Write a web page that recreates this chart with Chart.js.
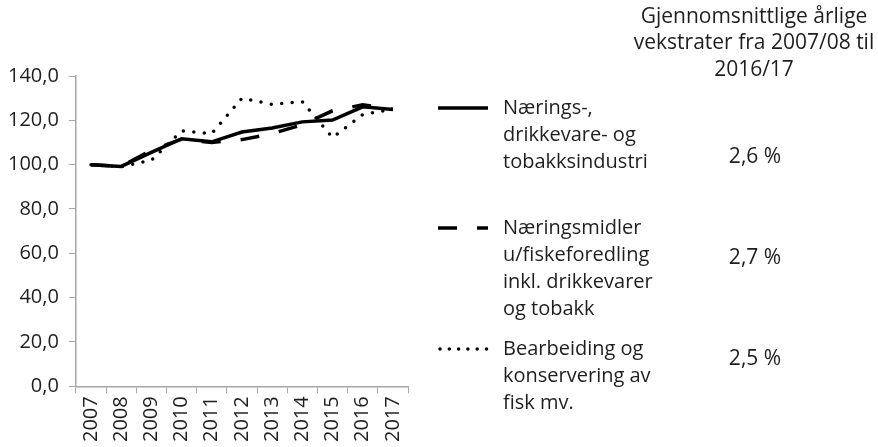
<!DOCTYPE html>
<html>
<head>
<meta charset="utf-8">
<script src="https://cdn.jsdelivr.net/npm/chart.js@4.4.1/dist/chart.umd.min.js"></script>
<style>
    html, body { margin: 0; padding: 0; background: #fff; }
    #wrap { position: relative; width: 878px; height: 447px; }
</style>
</head>
<body>
<div id="wrap"><canvas id="chart" width="878" height="447"></canvas></div>
<script>
// Indeks 2007 = 100
const years = ['2007', '2008', '2009', '2010', '2011', '2012', '2013', '2014', '2015', '2016', '2017'];
const naeringsDrikkeTobakk = [100, 99.2, 105.5, 111.7, 110.3, 114.7, 116.5, 119.3, 120.1, 126.1, 124.9];
const naeringsmidlerUtenFisk = [100, 99.2, 106.5, 111.5, 110.0, 111.3, 114.0, 118.0, 124.3, 127.0, 125.0];
const fiskBearbeiding = [100, 99.0, 102.0, 115.2, 114.0, 130.0, 127.2, 128.4, 112.2, 122.6, 125.0];

const seriesLabels = [
    ['Nærings-,', 'drikkevare- og', 'tobakksindustri'],
    ['Næringsmidler', 'u/fiskeforedling', 'inkl. drikkevarer', 'og tobakk'],
    ['Bearbeiding og', 'konservering av', 'fisk mv.']
];
const growthRates = ['2,6 %', '2,7 %', '2,5 %'];
const headerLines = ['Gjennomsnittlige årlige', 'vekstrater fra 2007/08 til', '2016/17'];

const FONT = '"Open Sans", sans-serif';
const TEXT_COLOR = '#1e1e1e';
const AXIS_COLOR = '#a6a6a6';

// Legend + growth rate table drawn to the right of the plot
const sideLegend = {
    id: 'sideLegend',
    afterDraw(chart) {
        const ctx = chart.ctx;
        ctx.save();
        ctx.fillStyle = TEXT_COLOR;
        ctx.textBaseline = 'middle';

        ctx.font = '21px ' + FONT;
        ctx.textAlign = 'center';
        headerLines.forEach((line, i) => ctx.fillText(line, 754, 17 + i * 26.5));

        const itemTop = [108, 228, 349];
        const rateY = [157, 258, 359];
        const dashes = [[], [19, 20], [0, 9.3]];

        chart.data.datasets.forEach((ds, i) => {
            ctx.beginPath();
            ctx.setLineDash(dashes[i]);
            ctx.lineCap = i === 2 ? 'round' : 'butt';
            ctx.lineWidth = ds.borderWidth;
            ctx.strokeStyle = ds.borderColor;
            ctx.moveTo(i === 2 ? 440 : 438, itemTop[i]);
            ctx.lineTo(488, itemTop[i]);
            ctx.stroke();
            ctx.setLineDash([]);

            ctx.font = '20px ' + FONT;
            ctx.textAlign = 'left';
            seriesLabels[i].forEach((line, j) => ctx.fillText(line, 503, itemTop[i] + j * 27));

            ctx.font = '21px ' + FONT;
            ctx.textAlign = 'center';
            ctx.fillText(growthRates[i], 755, rateY[i]);
        });
        ctx.restore();
    }
};

const ctx = document.getElementById('chart').getContext('2d');
new Chart(ctx, {
    type: 'line',
    data: {
        labels: years,
        datasets: [
            {
                label: seriesLabels[0].join(' '),
                data: naeringsDrikkeTobakk,
                borderColor: '#000',
                borderWidth: 3.5,
                pointRadius: 0,
                tension: 0
            },
            {
                label: seriesLabels[1].join(' '),
                data: naeringsmidlerUtenFisk,
                borderColor: '#000',
                borderWidth: 3.5,
                borderDash: [19, 20],
                pointRadius: 0,
                tension: 0
            },
            {
                label: seriesLabels[2].join(' '),
                data: fiskBearbeiding,
                borderColor: '#000',
                borderWidth: 3.5,
                borderDash: [0, 10.5],
                borderCapStyle: 'round',
                pointRadius: 0,
                tension: 0
            }
        ]
    },
    options: {
        responsive: false,
        animation: false,
        layout: {
            padding: { left: -2, top: 76, right: 470, bottom: 2 }
        },
        plugins: {
            legend: { display: false },
            tooltip: { enabled: false }
        },
        scales: {
            x: {
                offset: true,
                grid: { offset: true, drawOnChartArea: false, color: AXIS_COLOR, tickLength: 7 },
                border: { color: AXIS_COLOR, width: 1.5 },
                ticks: {
                    autoSkip: false,
                    maxRotation: 90,
                    minRotation: 90,
                    padding: 3,
                    color: TEXT_COLOR,
                    font: { family: FONT, size: 20 }
                }
            },
            y: {
                min: 0,
                max: 140,
                grid: { drawOnChartArea: false, color: AXIS_COLOR, tickLength: 7 },
                border: { color: AXIS_COLOR, width: 1.5 },
                ticks: {
                    stepSize: 20,
                    padding: 10,
                    color: TEXT_COLOR,
                    font: { family: FONT, size: 20 },
                    callback: (value) => value.toFixed(1).replace('.', ',')
                }
            }
        }
    },
    plugins: [sideLegend]
});
</script>
</body>
</html>
